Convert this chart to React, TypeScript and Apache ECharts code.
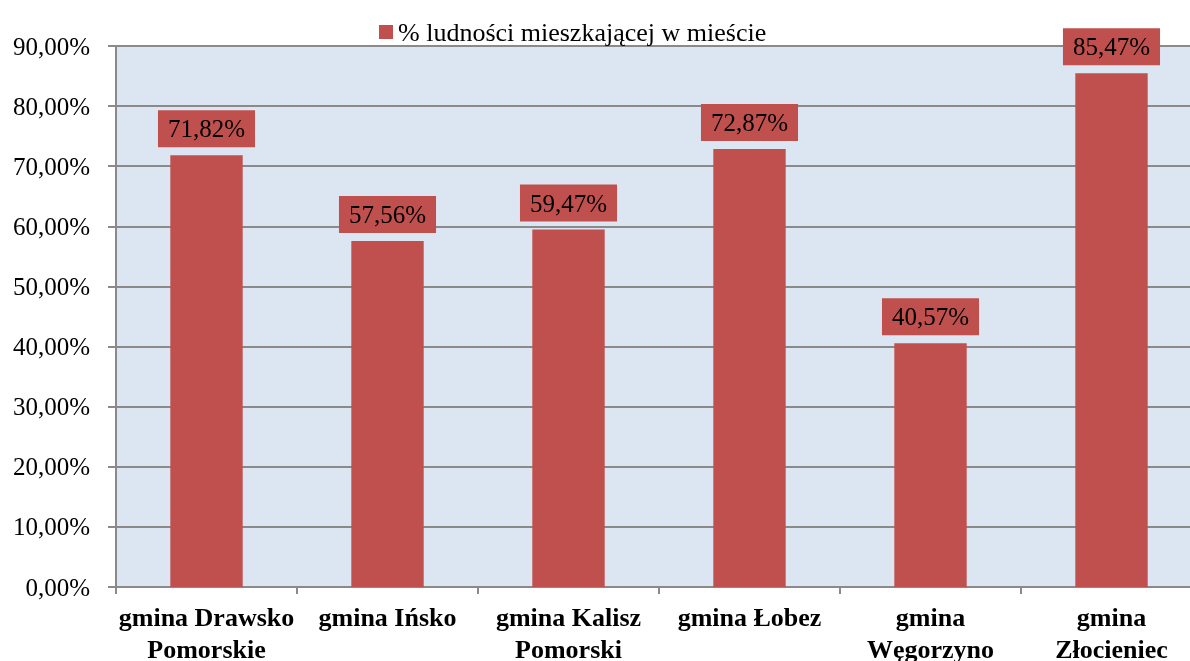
import React, { useEffect, useRef } from "react";
import * as echarts from "echarts";

const categories = [
  "gmina Drawsko\nPomorskie",
  "gmina Ińsko",
  "gmina Kalisz\nPomorski",
  "gmina Łobez",
  "gmina\nWęgorzyno",
  "gmina\nZłocieniec",
];
const values = [71.82, 57.56, 59.47, 72.87, 40.57, 85.47];
const seriesName = "% ludności mieszkającej w mieście";
const F = "Liberation Serif";

function fmt(v: number) {
  return v.toFixed(2).replace(".", ",") + "%";
}

function Chart() {
  const ref = useRef<HTMLDivElement>(null);
  useEffect(() => {
    if (!ref.current) return;
    const chart = echarts.init(ref.current, undefined, { renderer: "svg" });
    chart.setOption({
      animation: false,
      legend: {
        data: [seriesName],
        left: 374,
        top: 14,
        icon: "rect",
        itemWidth: 14,
        itemHeight: 14,
        textStyle: { fontFamily: F, fontSize: 26, color: "#000" },
      },
      grid: {
        left: 116,
        top: 46,
        right: -12,
        bottom: 74,
        show: true,
        backgroundColor: "#dce6f2",
        borderWidth: 0,
        outerBoundsMode: "none",
      },
      xAxis: {
        type: "category",
        data: categories,
        axisLine: { show: true, lineStyle: { color: "#8a8a8a", width: 2 } },
        axisTick: { show: true, length: 7, lineStyle: { color: "#8a8a8a", width: 2 } },
        axisLabel: {
          fontFamily: F,
          fontSize: 26,
          fontWeight: "bold",
          color: "#000",
          lineHeight: 32,
          margin: 14,
          interval: 0,
        },
      },
      yAxis: {
        type: "value",
        min: 0,
        max: 90,
        interval: 10,
        axisLine: { show: true, lineStyle: { color: "#8a8a8a", width: 2 } },
        axisTick: { show: true, length: 8, lineStyle: { color: "#8a8a8a", width: 2 } },
        splitLine: { show: true, lineStyle: { color: "#8a8a8a", width: 2 } },
        axisLabel: {
          fontFamily: F,
          fontSize: 25,
          color: "#000",
          margin: 26,
          formatter: (v: number) => fmt(v),
        },
      },
      series: [
        {
          name: seriesName,
          type: "bar",
          data: values,
          barWidth: "40%",
          itemStyle: { color: "#c0504d" },
          label: {
            show: true,
            position: "top",
            distance: 8,
            backgroundColor: "#c0504d",
            padding: [6, 10, 6, 10],
            fontFamily: F,
            fontSize: 25,
            color: "#000",
            formatter: (p: any) => fmt(p.value),
          },
        },
      ],
    });
    return () => chart.dispose();
  }, []);
  return <div ref={ref} style={{ width: 1190, height: 661 }} />;
}

export default function App() {
  return (
    <div style={{ position: "fixed", left: 0, top: 0 }}>
      <Chart />
    </div>
  );
}
